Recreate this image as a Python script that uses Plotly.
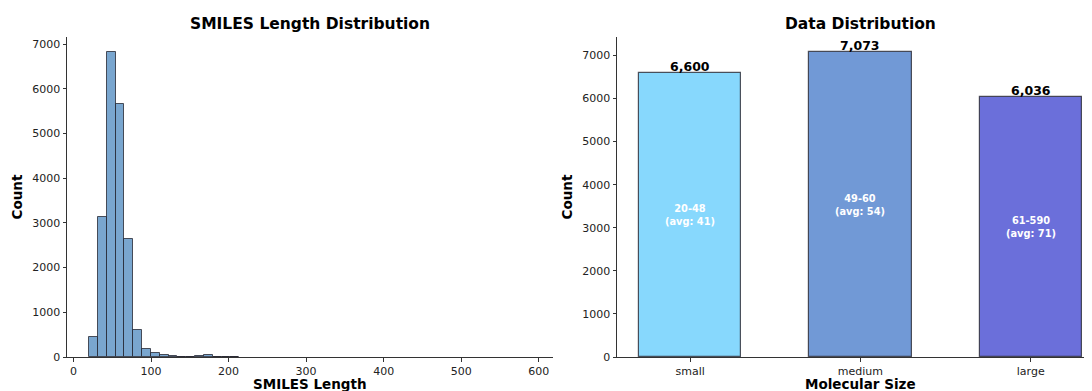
import plotly.graph_objects as go

# Histogram data (bin edges start 20, width 11.4)
bin_start = 20.0
bin_width = 11.4
hist_counts = [450, 3130, 6820, 5670, 2650, 600, 170, 100, 35, 15, 3, 10, 15, 35, 3, 10, 10]
hist_centers = [bin_start + bin_width * (i + 0.5) for i in range(len(hist_counts))]

# Category bars
categories = ["small", "medium", "large"]
cat_counts = [6600, 7073, 6036]
cat_ranges = ["20-48", "49-60", "61-590"]
cat_avgs = [41, 54, 71]
cat_colors = ["#87D8FD", "#7199D6", "#6B6FDA"]

hist_xticks = [0, 100, 200, 300, 400, 500, 600]
yticks = [0, 1000, 2000, 3000, 4000, 5000, 6000, 7000]

FONT = "DejaVu Sans"
W, H = 1084, 383  # page body adds 8px offset

fig = go.Figure()

fig.add_trace(go.Bar(
    x=hist_centers, y=hist_counts, width=[bin_width] * len(hist_counts),
    marker=dict(color="#79A6CF", line=dict(color="rgba(30,30,40,0.75)", width=1)),
    xaxis="x", yaxis="y", showlegend=False,
))

fig.add_trace(go.Bar(
    x=[0, 1, 2], y=cat_counts, width=0.6,
    marker=dict(color=cat_colors, line=dict(color="rgba(40,40,50,0.8)", width=1.2)),
    xaxis="x2", yaxis="y2", showlegend=False,
))

for i, (c, r, a) in enumerate(zip(cat_counts, cat_ranges, cat_avgs)):
    fig.add_annotation(
        x=i, y=c, xref="x2", yref="y2", text=f"<b>{c:,}</b>", showarrow=False,
        yanchor="bottom", yshift=-3, font=dict(family=FONT, size=12.5, color="black"),
    )
    fig.add_annotation(
        x=i, y=c / 2, xref="x2", yref="y2", text=f"<b>{r}<br>(avg: {a})</b>", showarrow=False,
        yanchor="middle", font=dict(family=FONT, size=9.8, color="white"),
    )

axis_common = dict(
    showgrid=False, zeroline=False, showline=True, linecolor="#333", linewidth=1,
    ticks="outside", ticklen=3.5, tickcolor="#333", automargin=False,
    tickfont=dict(family=FONT, size=11, color="#222"),
)
title_font = dict(family=FONT, size=13.5, color="black")

left_dom = [59 / W, 545 / W]
right_dom = [609 / W, 1.0]

fig.update_layout(
    width=W, height=H,
    margin=dict(l=0, r=0, t=29, b=34),
    paper_bgcolor="white", plot_bgcolor="white",
    bargap=0,
    font=dict(family=FONT),
    xaxis=dict(domain=left_dom, range=[-8.5, 618.5], tickvals=hist_xticks, **axis_common),
    yaxis=dict(domain=[0, 1], range=[0, 7161], tickvals=yticks,
               title=dict(text="<b>Count</b>", font=title_font, standoff=6),
               **axis_common),
    xaxis2=dict(domain=right_dom, range=[-0.43, 2.36],
                tickvals=[0, 1, 2], ticktext=categories,
                anchor="y2", **axis_common),
    yaxis2=dict(domain=[0, 1], range=[0, 7427], tickvals=yticks, anchor="x2",
                title=dict(text="<b>Count</b>", font=title_font, standoff=6),
                **axis_common),
)

# x-axis titles
fig.add_annotation(x=sum(left_dom) / 2, y=0, xref="paper", yref="paper", yshift=-27,
                   xanchor="center", yanchor="middle", showarrow=False,
                   text="<b>SMILES Length</b>", font=title_font)
fig.add_annotation(x=(609 + 1096) / 2 / W, y=0, xref="paper", yref="paper", yshift=-27,
                   xanchor="center", yanchor="middle", showarrow=False,
                   text="<b>Molecular Size</b>", font=title_font)

# subplot titles
fig.add_annotation(x=sum(left_dom) / 2, y=1, yref="paper", xref="paper", yshift=13,
                   xanchor="center", yanchor="middle", showarrow=False,
                   text="<b>SMILES Length Distribution</b>",
                   font=dict(family=FONT, size=15.5, color="black"))
fig.add_annotation(x=(609 + 1096) / 2 / W, y=1, yref="paper", xref="paper", yshift=13,
                   xanchor="center", yanchor="middle", showarrow=False,
                   text="<b>Data Distribution</b>",
                   font=dict(family=FONT, size=15.5, color="black"))

fig.write_html("out.html")
